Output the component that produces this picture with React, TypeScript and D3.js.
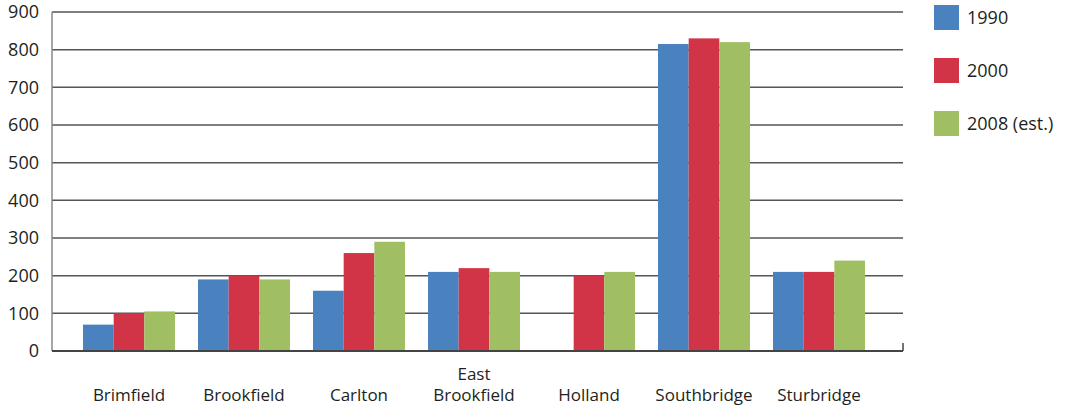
import React from "react";
import * as d3 from "d3";

const categories = ["Brimfield", "Brookfield", "Carlton", "East\nBrookfield", "Holland", "Southbridge", "Sturbridge"];
const seriesNames = ["1990", "2000", "2008 (est.)"];
const values1990 = [70, 190, 160, 210, null, 815, 210];
const values2000 = [100, 200, 260, 220, 200, 830, 210];
const values2008 = [105, 190, 290, 210, 210, 820, 240];
const yTicks = [0, 100, 200, 300, 400, 500, 600, 700, 800, 900];
const colors = ["#4a81bf", "#d23447", "#a0bf62"];

const W = 1066;
const H = 411;
const FONT = "'Open Sans', sans-serif";

export default function App() {
  const series = [values1990, values2000, values2008];
  const plotLeft = 52;
  const plotRight = 903;
  const y = d3.scaleLinear().domain([0, 900]).range([351, 12]);
  const x = d3.scaleBand<string>().domain(categories).range([71.5, 876.5]).paddingInner(0.2).paddingOuter(0.1);
  const xs = d3.scaleBand<string>().domain(seriesNames).range([0, x.bandwidth()]);

  return (
    <svg width={W} height={H} style={{ position: "absolute", left: 0, top: 0 }}>
      <rect width={W} height={H} fill="#fff" />
      {yTicks.map((t) =>
        t === 0 ? null : (
          <line key={"g" + t} x1={plotLeft} x2={plotRight} y1={y(t)} y2={y(t)} stroke="#555" strokeWidth={1.5} />
        )
      )}
      <line x1={plotLeft} x2={plotLeft} y1={y(900)} y2={y(0)} stroke="#888" strokeWidth={1.5} />
      {yTicks.map((t) => (
        <text key={"t" + t} x={39} y={y(t)} dy="0.35em" textAnchor="end" fontFamily={FONT} fontSize={18} fill="#231f20">
          {t}
        </text>
      ))}
      {categories.map((c, i) => (
        <g key={c} transform={`translate(${x(c)},0)`}>
          {series.map((s, j) => {
            const v = s[i];
            if (v == null) return null;
            return (
              <rect key={j} x={xs(seriesNames[j])} y={y(v)} width={xs.bandwidth()} height={y(0) - y(v)} fill={colors[j]} />
            );
          })}
        </g>
      ))}
      <line x1={plotLeft} x2={plotRight} y1={y(0)} y2={y(0)} stroke="#444" strokeWidth={2} />
      <line x1={plotRight} x2={plotRight} y1={y(0)} y2={y(0) - 8} stroke="#444" strokeWidth={1.5} />
      {categories.map((c) => {
        const lines = c.split("\n");
        const cx = (x(c) as number) + x.bandwidth() / 2;
        return (
          <text key={"l" + c} x={cx} textAnchor="middle" fontFamily={FONT} fontSize={17} fill="#231f20">
            {lines.map((ln, k) => (
              <tspan key={k} x={cx} y={401 - (lines.length - 1 - k) * 21}>
                {ln}
              </tspan>
            ))}
          </text>
        );
      })}
      {seriesNames.map((n, j) => (
        <g key={n} transform={`translate(934,${5 + j * 53})`}>
          <rect width={25} height={25} fill={colors[j]} />
          <text x={33} y={12.5} dy="0.35em" fontFamily={FONT} fontSize={18} fill="#231f20">
            {n}
          </text>
        </g>
      ))}
    </svg>
  );
}
